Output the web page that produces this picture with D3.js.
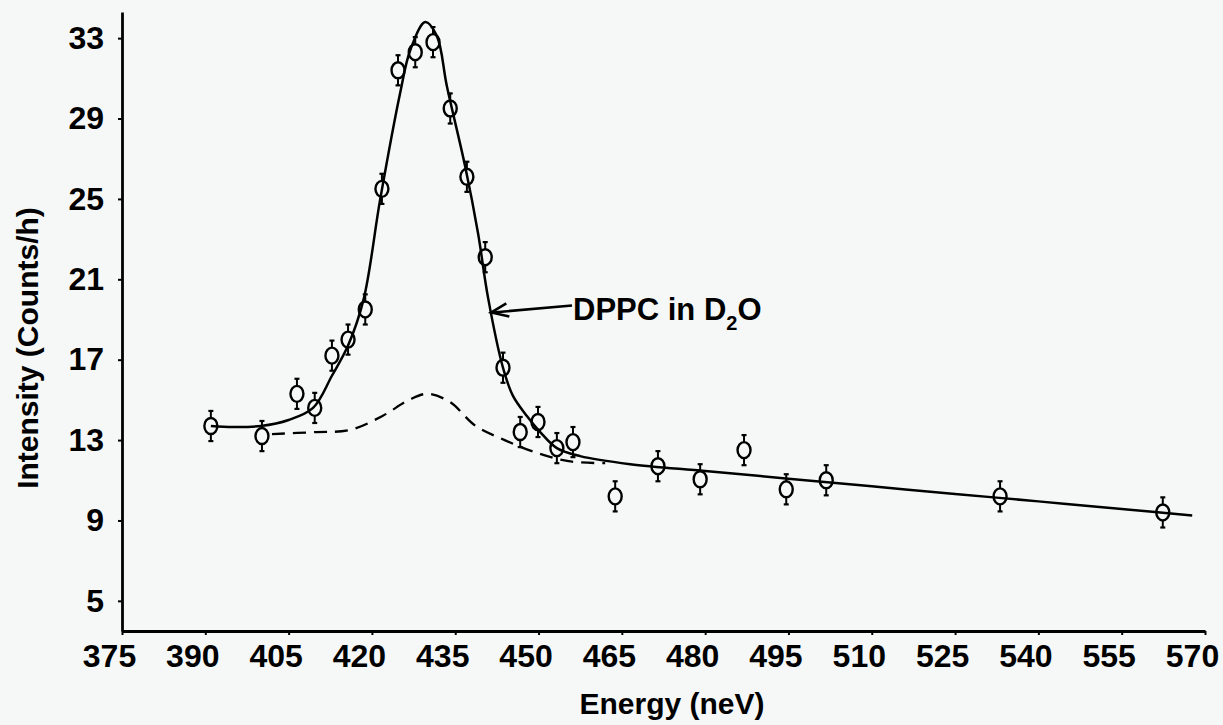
<!DOCTYPE html>
<html>
<head>
<meta charset="utf-8">
<script src="https://cdn.jsdelivr.net/npm/d3@7/dist/d3.min.js"></script>
<style>
  html, body { margin: 0; padding: 0; background: #f6f8f8; }
  svg { display: block; }
  text { font-family: "Liberation Sans", Arial, Helvetica, sans-serif; font-weight: bold; fill: #000; }
</style>
</head>
<body>
<svg id="chart" width="1223" height="725"></svg>
<script>
// Measured points (energy in neV, intensity in counts/h).
var energy = [391.0, 400.2, 406.5, 409.7, 412.8, 415.7, 418.8, 421.8, 424.7, 427.8, 431.0, 434.1, 437.1,
              440.4, 443.6, 446.7, 449.9, 453.3, 456.2, 463.8, 471.5, 479.1, 487.0, 494.6, 501.8, 533.1, 562.4];
var intensity = [13.7, 13.2, 15.3, 14.6, 17.2, 18.0, 19.5, 25.5, 31.4, 32.3, 32.8, 29.5, 26.1,
                 22.1, 16.6, 13.4, 13.9, 12.6, 12.9, 10.2, 11.7, 11.05, 12.5, 10.55, 11.0, 10.2, 9.4];
var errors = [0.75, 0.75, 0.75, 0.75, 0.75, 0.75, 0.75, 0.75, 0.75, 0.75, 0.75, 0.75, 0.75,
              0.75, 0.75, 0.75, 0.75, 0.75, 0.75, 0.75, 0.75, 0.75, 0.75, 0.75, 0.75, 0.75, 0.75];

// Fitted curve (solid).
var fitE = [391, 395, 400, 405, 409.4, 412.8, 415.7, 418.5, 421.5, 425.1, 426.9, 429.6, 431.7, 433.5, 436.8,
            439.1, 440.9, 443.6, 445.4, 447.9, 450.3, 453.3, 457.5, 466.5, 480, 495, 510, 525, 540, 555, 567.7];
var fitI = [13.7, 13.65, 13.7, 14.0, 14.6, 16.2, 17.7, 20.0, 25.0, 30.3, 32.4, 33.8, 33.1, 30.6, 26.6,
            23.3, 20.1, 16.6, 15.2, 14.2, 13.4, 12.6, 12.2, 11.8, 11.46, 11.08, 10.70, 10.32, 9.95, 9.57, 9.25];

// Background component (dashed).
var dashE = [402, 410, 416, 421.9, 426.7, 430, 434, 438.7, 443.9, 449.3, 455.4, 462];
var dashI = [13.3, 13.4, 13.5, 14.2, 15.0, 15.3, 14.9, 13.7, 13.0, 12.4, 11.95, 11.85];

var xTicks = [375, 390, 405, 420, 435, 450, 465, 480, 495, 510, 525, 540, 555, 570];
var yTicks = [5, 9, 13, 17, 21, 25, 29, 33];

var svg = d3.select("#chart");
svg.append("rect").attr("width", 1223).attr("height", 725).attr("fill", "#f6f8f8");

var x = d3.scaleLinear().domain([375, 570]).range([122, 1205]);
var y = d3.scaleLinear().domain([3.5, 34.3]).range([631, 12]);

// Axes.
var xAxis = svg.append("g")
    .attr("transform", "translate(0," + y(3.5) + ")")
    .call(d3.axisBottom(x).tickValues(xTicks).tickSize(4).tickPadding(9).tickSizeOuter(0));
xAxis.selectAll("text").attr("font-size", 32).attr("dx", -13);

var yAxis = svg.append("g")
    .attr("transform", "translate(" + x(375) + ",0)")
    .call(d3.axisLeft(y).tickValues(yTicks).tickSize(4).tickPadding(14).tickSizeOuter(0));
yAxis.selectAll("text").attr("font-size", 32);

svg.selectAll(".domain").attr("stroke", "#000").attr("stroke-width", 2.8);
svg.selectAll(".tick line").attr("stroke", "#000").attr("stroke-width", 2);

// Axis titles.
svg.append("text")
    .attr("x", 672).attr("y", 714)
    .attr("text-anchor", "middle")
    .attr("font-size", 30)
    .text("Energy (neV)");

svg.append("text")
    .attr("transform", "translate(38,348) rotate(-90)")
    .attr("text-anchor", "middle")
    .attr("font-size", 30)
    .text("Intensity (Counts/h)");

// Curves.
var line = d3.line()
    .x(function(d) { return x(d[0]); })
    .y(function(d) { return y(d[1]); })
    .curve(d3.curveCatmullRom.alpha(0.5));

svg.append("path")
    .datum(d3.zip(dashE, dashI))
    .attr("d", line)
    .attr("fill", "none")
    .attr("stroke", "#000")
    .attr("stroke-width", 2.3)
    .attr("stroke-dasharray", "13,8");

svg.append("path")
    .datum(d3.zip(fitE, fitI))
    .attr("d", line)
    .attr("fill", "none")
    .attr("stroke", "#000")
    .attr("stroke-width", 2.5);

// Data points with error bars.
var pts = energy.map(function(e, i) { return { e: e, v: intensity[i], err: errors[i] }; });

var marks = svg.append("g").selectAll("g")
    .data(pts)
    .enter()
    .append("g")
    .attr("transform", function(d) { return "translate(" + x(d.e) + "," + y(d.v) + ")"; });

var up = function(d) { return y(d.v + d.err) - y(d.v); };
var down = function(d) { return y(d.v - d.err) - y(d.v); };

marks.append("line")
    .attr("x1", 0).attr("x2", 0)
    .attr("y1", up).attr("y2", -8)
    .attr("stroke", "#000").attr("stroke-width", 2);
marks.append("line")
    .attr("x1", 0).attr("x2", 0)
    .attr("y1", 8).attr("y2", down)
    .attr("stroke", "#000").attr("stroke-width", 2);
marks.append("line")
    .attr("x1", -2.5).attr("x2", 2.5)
    .attr("y1", up).attr("y2", up)
    .attr("stroke", "#000").attr("stroke-width", 2.2);
marks.append("line")
    .attr("x1", -2.5).attr("x2", 2.5)
    .attr("y1", down).attr("y2", down)
    .attr("stroke", "#000").attr("stroke-width", 2.2);
marks.append("ellipse")
    .attr("rx", 6.5).attr("ry", 8)
    .attr("fill", "none")
    .attr("stroke", "#000").attr("stroke-width", 2.4);

// Annotation with arrow pointing at the curve.
var tipE = 441.5, tipI = 19.35;
var tx = x(tipE), ty = y(tipI);
svg.append("line")
    .attr("x1", 572).attr("y1", ty - 7)
    .attr("x2", tx + 2).attr("y2", ty)
    .attr("stroke", "#000").attr("stroke-width", 2.6);
svg.append("path")
    .attr("d", "M" + (tx + 15) + "," + (ty - 9) + "L" + tx + "," + ty + "L" + (tx + 18) + "," + (ty + 4))
    .attr("fill", "none").attr("stroke", "#000").attr("stroke-width", 2.6);

var label = svg.append("text")
    .attr("x", 573).attr("y", 320)
    .attr("font-size", 31);
label.append("tspan").text("DPPC in D");
label.append("tspan").attr("font-size", 20).attr("dy", 10).text("2");
label.append("tspan").attr("dy", -10).text("O");
</script>
</body>
</html>
